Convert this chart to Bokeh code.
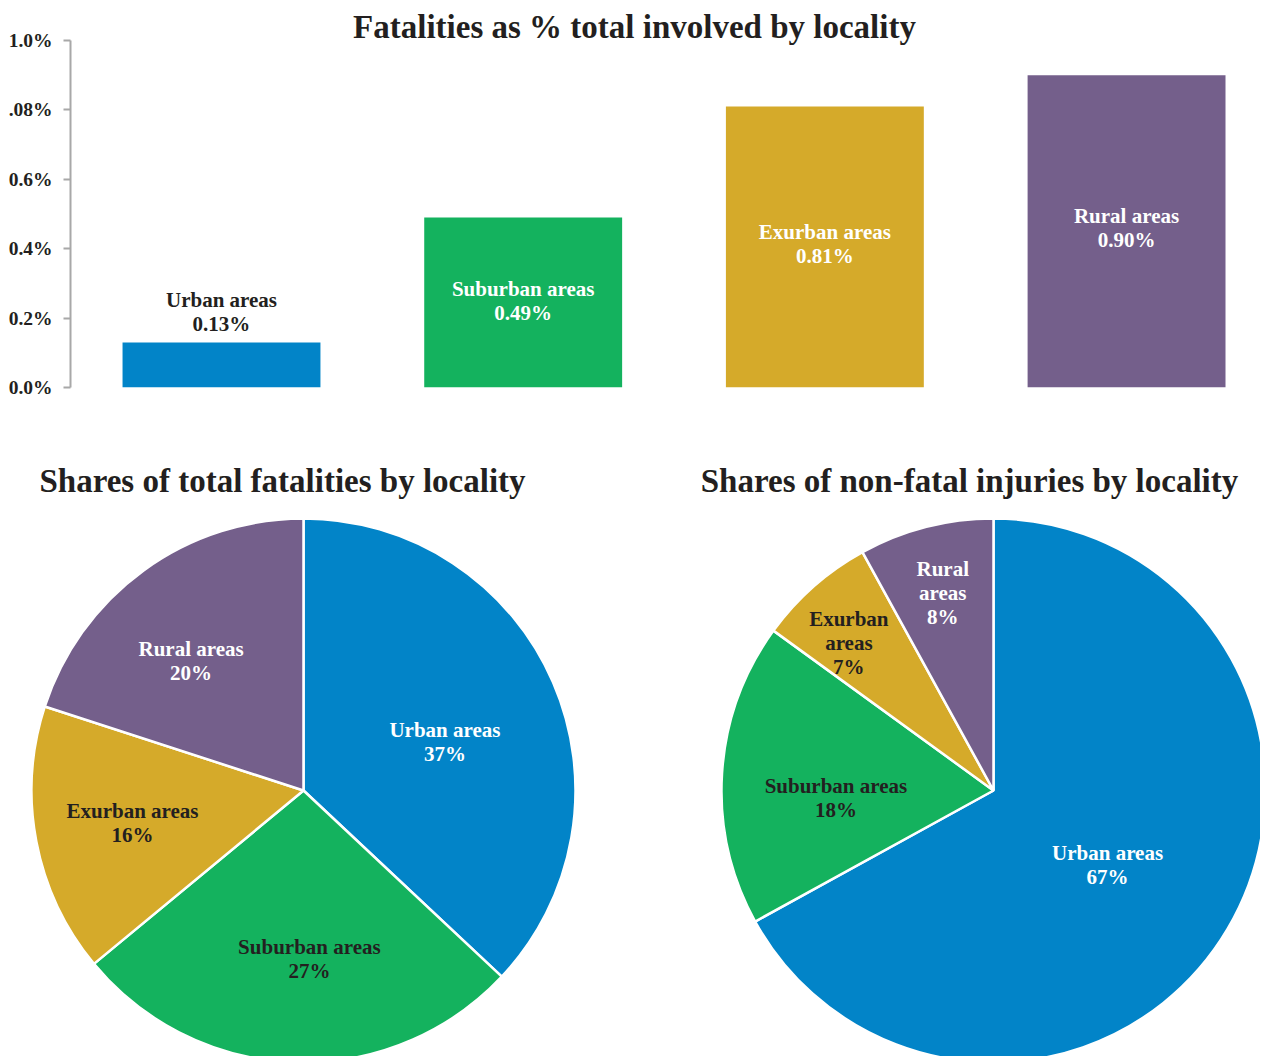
import math
from bokeh.plotting import figure
from bokeh.layouts import column, row
from bokeh.models import Range1d, FixedTicker, ColumnDataSource, Label
from bokeh.core.properties import value
from bokeh.embed import file_html
from bokeh.resources import INLINE

# ---------------- data ----------------
categories = ["Urban areas", "Suburban areas", "Exurban areas", "Rural areas"]
fatality_rate = [0.13, 0.49, 0.81, 0.90]            # % of total involved
y_ticks = [0.0, 0.2, 0.4, 0.6, 0.8, 1.0]
y_tick_labels = ["0.0%", "0.2%", "0.4%", "0.6%", ".08%", "1.0%"]

fatal_shares = [37, 27, 16, 20]                      # %
fatal_names = ["Urban areas", "Suburban areas", "Exurban areas", "Rural areas"]
injury_shares = [67, 18, 7, 8]                       # %
injury_names = ["Urban areas", "Suburban areas", "Exurban\nareas", "Rural\nareas"]

title_top = "Fatalities as % total involved by locality"
title_left = "Shares of total fatalities by locality"
title_right = "Shares of non-fatal injuries by locality"

# ---------------- style ----------------
colors = ["#0284c8", "#14b25e", "#d5aa2a", "#745f8b"]
dark = "#231f20"
FONT = value("Liberation Serif")
fatal_label_colors = ["white", dark, dark, "white"]
injury_label_colors = ["white", dark, dark, "white"]
fatal_label_r = [0.55, 0.62, 0.64, 0.63]
fatal_label_rot = [-4.4, 3.8, 0.0, 5.0]      # degrees nudges of label from slice middle
injury_label_r = [0.50, 0.58, 0.76, 0.75]
injury_label_rot = [-2.4, 6.5, 3.0, 0.0]
LINE_H = 1.0

# ---------------- bar chart ----------------
TOP_H = 427
p = figure(width=1260, height=TOP_H, output_backend="svg", toolbar_location=None,
           x_range=Range1d(-0.5005, 3.444), y_range=Range1d(0, 1.0835),
           min_border_left=70, min_border_right=0, min_border_top=11, min_border_bottom=40)
p.outline_line_color = None
p.grid.visible = False
p.xaxis.visible = False
p.background_fill_color = "white"

xs = list(range(len(categories)))
p.vbar(x=xs, top=fatality_rate, width=0.656, bottom=0, fill_color=colors, line_color=None)

yax = p.yaxis[0]
yax.ticker = FixedTicker(ticks=y_ticks)
yax.major_label_overrides = {t: l for t, l in zip(y_ticks, y_tick_labels)}
yax.bounds = (0, 1.0)
yax.axis_line_color = "#a8a8a8"
yax.axis_line_width = 2
yax.major_tick_line_color = "#a8a8a8"
yax.major_tick_line_width = 2
yax.major_tick_out = 7
yax.major_tick_in = 0
yax.minor_tick_line_color = None
yax.major_label_standoff = 11
yax.major_label_text_font = "Liberation Serif"
yax.major_label_text_font_style = "bold"
yax.major_label_text_font_size = "19.5px"
yax.major_label_text_color = dark

bar_text = [f"{c}\n{v:.2f}%" for c, v in zip(categories, fatality_rate)]
bar_ty = [v + 0.088 if v < 0.2 else v * 0.51 for v in fatality_rate]
bar_tc = [dark if v < 0.2 else "white" for v in fatality_rate]
p.text(x=xs, y=bar_ty, text=bar_text, text_color=bar_tc, text_font=FONT,
       text_font_style="bold", text_font_size="21px", text_align="center",
       text_baseline="middle", text_line_height=LINE_H)

p.add_layout(Label(x=1.369, y=1.038, text=title_top, text_font="Liberation Serif",
                   text_font_style="bold", text_font_size="33px", text_color=dark,
                   text_align="center", text_baseline="middle"))


# ---------------- pies ----------------
def pie(width, cx, shares, names, label_colors, label_r, label_rot, title, title_x):
    H = 1056 - TOP_H
    cy = 363
    R = 272
    f = figure(width=width, height=H, output_backend="svg", toolbar_location=None,
               x_range=Range1d(-cx, width - cx), y_range=Range1d(-(H - cy), cy),
               min_border=0)
    f.axis.visible = False
    f.grid.visible = False
    f.outline_line_color = None
    total = float(sum(shares))
    starts, ends, lx, ly, texts = [], [], [], [], []
    cum = 0.0
    for s, n, r, rot in zip(shares, names, label_r, label_rot):
        a0 = math.pi / 2 - 2 * math.pi * cum / total
        cum += s
        a1 = math.pi / 2 - 2 * math.pi * cum / total
        starts.append(a0)
        ends.append(a1)
        mid = (a0 + a1) / 2 + math.radians(rot)
        lx.append(R * r * math.cos(mid))
        ly.append(R * r * math.sin(mid))
        texts.append(f"{n}\n{s}%")
    src = ColumnDataSource(dict(start=starts, end=ends, color=colors))
    f.wedge(x=0, y=0, radius=R, start_angle="start", end_angle="end", direction="clock",
            fill_color="color", line_color="white", line_width=2.5, source=src)
    f.text(x=lx, y=ly, text=texts, text_color=label_colors, text_font=FONT,
           text_font_style="bold", text_font_size="21px", text_align="center",
           text_baseline="middle", text_line_height=LINE_H)
    f.add_layout(Label(x=title_x, y=310, text=title, text_font="Liberation Serif",
                       text_font_style="bold", text_font_size="33px", text_color=dark,
                       text_align="center", text_baseline="middle"))
    return f


p_left = pie(647, 303, fatal_shares, fatal_names, fatal_label_colors, fatal_label_r,
             fatal_label_rot, title_left, -21)
p_right = pie(613, 346, injury_shares, injury_names, injury_label_colors, injury_label_r,
              injury_label_rot, title_right, -24)

layout = column(p, row(p_left, p_right, spacing=0), spacing=0)
open("out.html", "w").write(file_html(layout, INLINE))
